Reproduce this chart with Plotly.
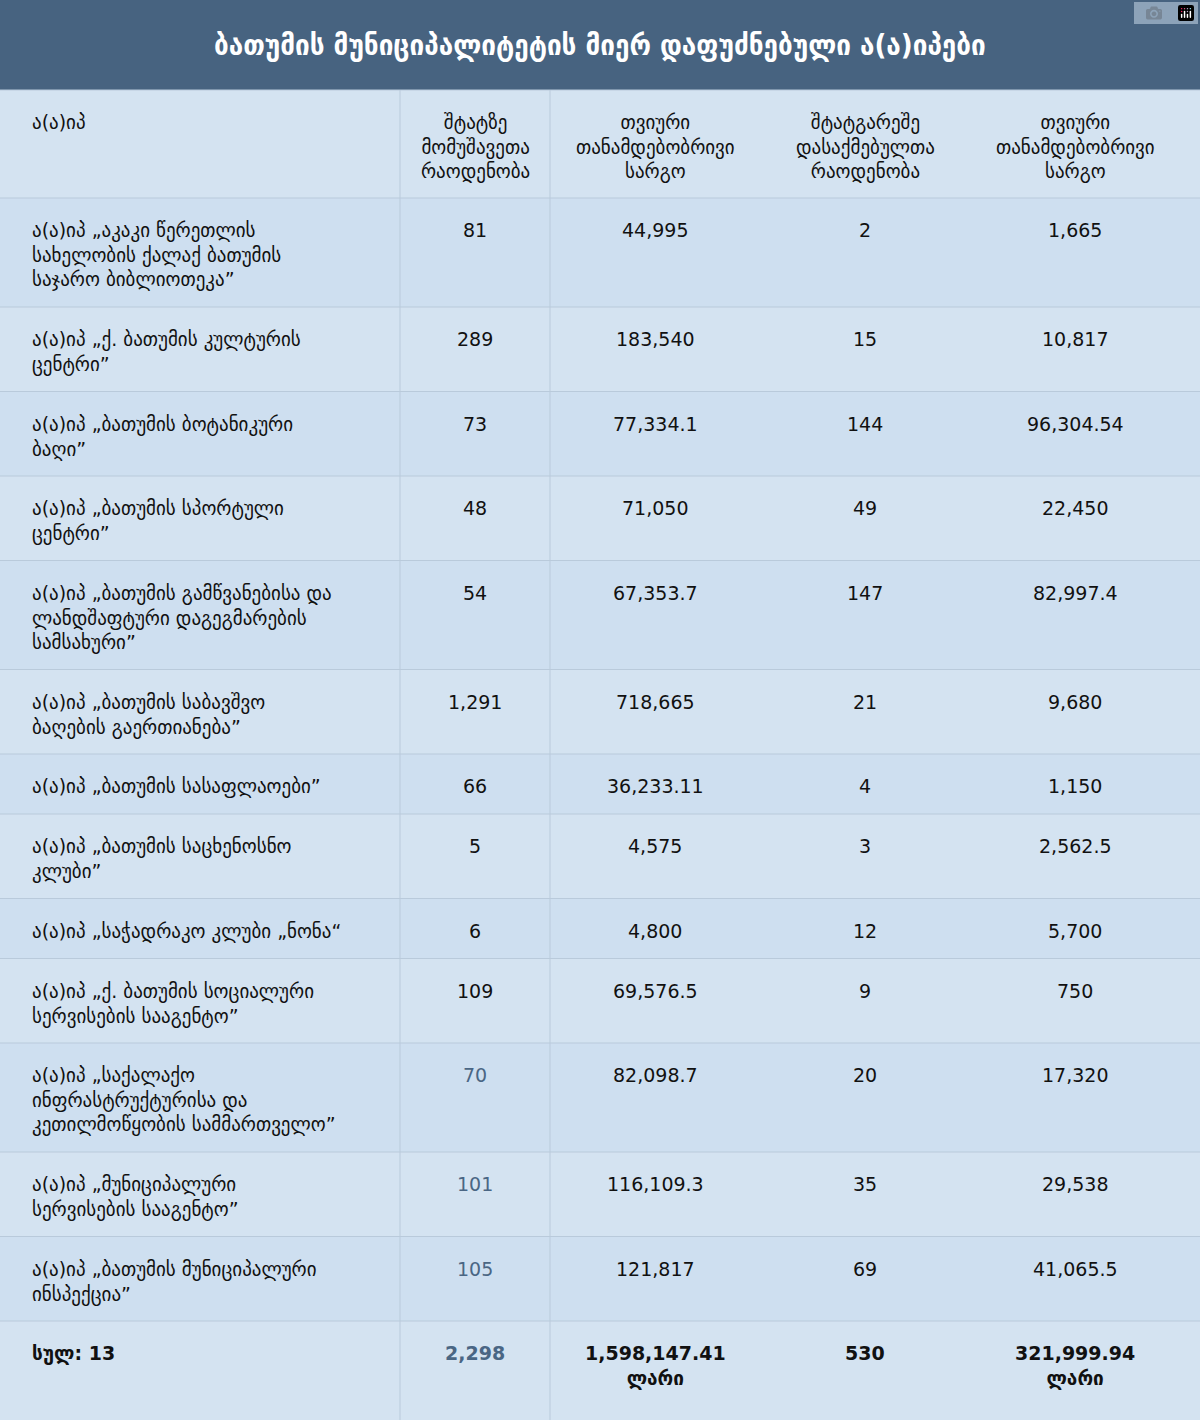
import plotly.graph_objects as go

TITLE = "ბათუმის მუნიციპალიტეტის მიერ დაფუძნებული ა(ა)იპები"

headers = [
    "ა(ა)იპ",
    "შტატზე<br>მომუშავეთა<br>რაოდენობა",
    "თვიური<br>თანამდებობრივი<br>სარგო",
    "შტატგარეშე<br>დასაქმებულთა<br>რაოდენობა",
    "თვიური<br>თანამდებობრივი<br>სარგო",
]

names = [
    "ა(ა)იპ „აკაკი წერეთლის<br>სახელობის ქალაქ ბათუმის<br>საჯარო ბიბლიოთეკა”",
    "ა(ა)იპ „ქ. ბათუმის კულტურის<br>ცენტრი”",
    "ა(ა)იპ „ბათუმის ბოტანიკური<br>ბაღი”",
    "ა(ა)იპ „ბათუმის სპორტული<br>ცენტრი”",
    "ა(ა)იპ „ბათუმის გამწვანებისა და<br>ლანდშაფტური დაგეგმარების<br>სამსახური”",
    "ა(ა)იპ „ბათუმის საბავშვო<br>ბაღების გაერთიანება”",
    "ა(ა)იპ „ბათუმის სასაფლაოები”",
    "ა(ა)იპ „ბათუმის საცხენოსნო<br>კლუბი”",
    "ა(ა)იპ „საჭადრაკო კლუბი „ნონა“",
    "ა(ა)იპ „ქ. ბათუმის სოციალური<br>სერვისების სააგენტო”",
    "ა(ა)იპ „საქალაქო<br>ინფრასტრუქტურისა და<br>კეთილმოწყობის სამმართველო”",
    "ა(ა)იპ „მუნიციპალური<br>სერვისების სააგენტო”",
    "ა(ა)იპ „ბათუმის მუნიციპალური<br>ინსპექცია”",
]
staff = ["81", "289", "73", "48", "54", "1,291", "66", "5", "6", "109", "70", "101", "105"]
staff_salary = ["44,995", "183,540", "77,334.1", "71,050", "67,353.7", "718,665",
                "36,233.11", "4,575", "4,800", "69,576.5", "82,098.7", "116,109.3", "121,817"]
extra = ["2", "15", "144", "49", "147", "21", "4", "3", "12", "9", "20", "35", "69"]
extra_salary = ["1,665", "10,817", "96,304.54", "22,450", "82,997.4", "9,680",
                "1,150", "2,562.5", "5,700", "750", "17,320", "29,538", "41,065.5"]

total_label = "<b>სულ: 13</b>"
total = ["<b>2,298</b>", "<b>1,598,147.41<br>ლარი</b>", "<b>530</b>", "<b>321,999.94<br>ლარი</b>"]

W, H = 1200, 1420
TOP = 90
col_x = [30, 475, 655, 865, 1075]
DARK = "#111111"
SLATE = "#4a6684"
LINE = "#b9cadb"

rows = [headers]
for i in range(len(names)):
    rows.append([names[i], staff[i], staff_salary[i], extra[i], extra_salary[i]])
rows.append([total_label] + total)


def row_height(r, idx):
    if idx == 0:
        return 108
    if idx == len(rows) - 1:
        return H - y
    lines = max(c.count("<br>") + 1 for c in r)
    return 60 + 24.5 * (lines - 1)


fig = go.Figure()
shapes, annots = [], []
shapes.append(dict(type="rect", x0=0, x1=W, y0=0, y1=TOP, fillcolor="#476380", line_width=0))
annots.append(dict(x=W / 2, y=TOP / 2, text="<b>" + TITLE + "</b>", showarrow=False,
                   font=dict(family="DejaVu Sans Condensed", size=29, color="white")))

y = TOP
for idx, r in enumerate(rows):
    h = row_height(r, idx)
    fill = "#d4e3f1" if idx % 2 == 0 else "#cedff0"
    shapes.append(dict(type="rect", x0=0, x1=W, y0=y, y1=y + h, fillcolor=fill,
                       line_width=0, layer="below"))
    shapes.append(dict(type="line", x0=0, x1=W, y0=y, y1=y, line=dict(color=LINE, width=1)))
    for c, txt in enumerate(r):
        color = DARK
        if c == 1 and idx >= 11:
            color = SLATE
        annots.append(dict(
            x=col_x[c], y=y + 19, text=txt, showarrow=False,
            xanchor="left" if c == 0 else "center", yanchor="top",
            align="left" if c == 0 else "center",
            font=dict(family="DejaVu Sans", size=19, color=color),
        ))
    y += h

for vx in (400, 550):
    shapes.append(dict(type="line", x0=vx, x1=vx, y0=TOP, y1=H, line=dict(color=LINE, width=1)))

fig.update_layout(
    width=W, height=H, margin=dict(l=0, r=0, t=0, b=0),
    paper_bgcolor="#d4e3f1", plot_bgcolor="#d4e3f1",
    xaxis=dict(range=[0, W], visible=False, fixedrange=True),
    yaxis=dict(range=[H, 0], visible=False, fixedrange=True),
    shapes=shapes, annotations=annots, showlegend=False,
)
fig.write_html("out.html", post_script="document.body.style.margin='0';")
